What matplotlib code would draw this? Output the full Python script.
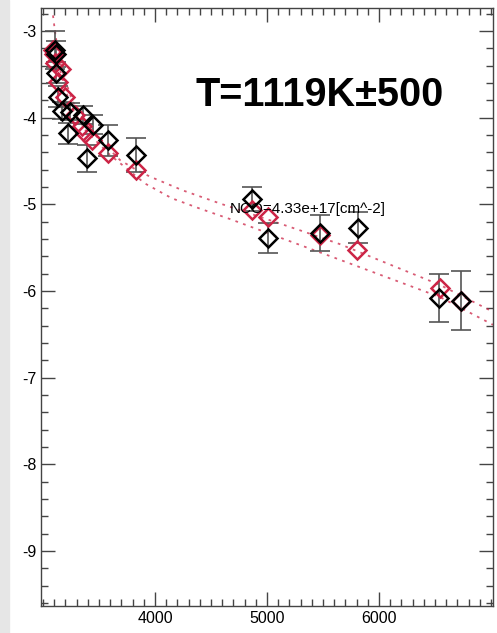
import matplotlib.pyplot as plt
from matplotlib.ticker import MultipleLocator
import matplotlib.patches as mpatches

plt.rcParams['font.family'] = ['Liberation Sans', 'DejaVu Sans']

# observed points (energy, log column density) with errors
obs_x = [3110, 3118, 3120, 3134, 3170, 3241, 3223, 3357, 3446, 3393, 3580, 3830,
         4866, 5009, 5473, 5812, 6536, 6732]
obs_y = [-3.22, -3.26, -3.48, -3.76, -3.92, -3.93, -4.18, -3.97, -4.08, -4.47, -4.26, -4.43,
         -4.94, -5.39, -5.33, -5.27, -6.08, -6.11]
obs_err = [0.22, 0.15, 0.12, 0.12, 0.10, 0.10, 0.12, 0.10, 0.11, 0.16, 0.18, 0.20,
           0.14, 0.17, 0.21, 0.18, 0.28, 0.34]

# model points
mod_x = [3089, 3100, 3110, 3161, 3130, 3196, 3286, 3348, 3375, 3437, 3580, 3830,
         4866, 5009, 5473, 5804, 6545, 6732]
mod_y = [-3.22, -3.27, -3.37, -3.44, -3.59, -3.76, -3.97, -4.10, -4.18, -4.26, -4.41, -4.60,
         -5.06, -5.15, -5.35, -5.53, -5.96, -6.11]

# fitted curves
fit1_x = [3089, 3116, 3170, 3259, 3420, 3688, 3830, 3955, 4250, 4580, 5295, 5652, 6545, 7018]
fit1_y = [-2.82, -3.10, -3.45, -3.80, -4.14, -4.49, -4.60, -4.68, -4.84, -4.99, -5.30, -5.46, -5.93, -6.24]
fit2_x = [3107, 3152, 3241, 3375, 3598, 3911, 4150, 4402, 4670, 5652, 6545, 7018]
fit2_y = [-2.99, -3.45, -3.85, -4.14, -4.43, -4.76, -4.93, -5.05, -5.17, -5.64, -6.07, -6.39]

red = '#cc2446'

fig = plt.figure(figsize=(4.97, 6.33), dpi=100)
fig.patches.append(mpatches.Rectangle((0, 0), 9 / 497, 1, transform=fig.transFigure,
                                      color='#e6e6e6', zorder=0))
ax = fig.add_axes([41 / 497, 27 / 633, 452 / 497, 598 / 633])

ax.plot(fit1_x, fit1_y, color=red, lw=1.3, alpha=0.75, ls=(0, (1.5, 3)))
ax.plot(fit2_x, fit2_y, color=red, lw=1.3, alpha=0.75, ls=(0, (1.5, 3)))

ax.errorbar(obs_x, obs_y, yerr=obs_err, fmt='none', ecolor='#555555',
            elinewidth=1.2, capsize=7, capthick=1.2)
ax.plot(mod_x, mod_y, 'D', mfc='none', mec=red, mew=1.8, ms=9.5)
ax.plot(obs_x, obs_y, 'D', mfc='none', mec='black', mew=1.8, ms=9.5)

ax.text(4670, -5.05, 'NCO=4.33e+17[cm^-2]', fontsize=11, va='center', ha='left')
ax.text(4366, -3.74, 'T=1119K±500', fontsize=28.5, fontweight='bold', va='center', ha='left')

ax.set_xlim(2982, 7018)
ax.set_ylim(-9.634, -2.735)
ax.xaxis.set_major_locator(MultipleLocator(1000))
ax.xaxis.set_minor_locator(MultipleLocator(100))
ax.yaxis.set_major_locator(MultipleLocator(1))
ax.yaxis.set_minor_locator(MultipleLocator(0.2))
ax.tick_params(which='both', direction='in', top=True, right=True, color='#444444',
               labelsize=11.5, width=1)
ax.tick_params(which='major', length=10)
ax.tick_params(which='minor', length=5)
ax.set_xticks([4000, 5000, 6000])
ax.set_yticks([-3, -4, -5, -6, -7, -8, -9])
ax.set_yticklabels(['-3', '-4', '-5', '-6', '-7', '-8', '-9'])
for s in ax.spines.values():
    s.set_color('#444444')
    s.set_linewidth(1)

fig.savefig('out.png', dpi=100)
